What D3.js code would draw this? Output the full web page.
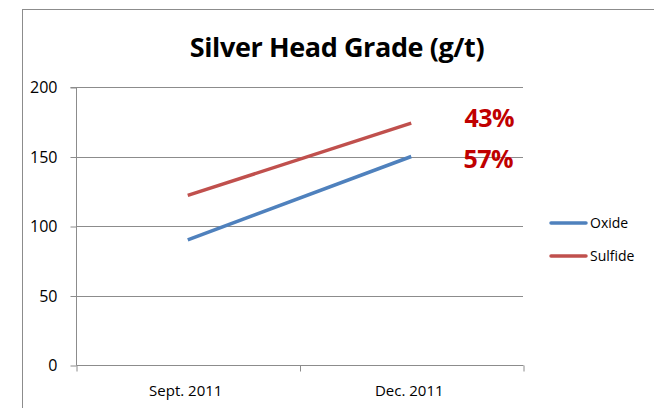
<!DOCTYPE html>
<html>
<head>
<meta charset="utf-8">
<script src="https://cdn.jsdelivr.net/npm/d3@7"></script>
<style>
  body { margin: 0; background: #fff; }
  svg { display: block; font-family: "Open Sans", "Noto Sans", sans-serif; }
</style>
</head>
<body>
<div class="container"></div>
<script>
const categories = ['Sept. 2011', 'Dec. 2011'];
const seriesNames = ['Oxide', 'Sulfide'];
const oxideValues = [90, 150];
const sulfideValues = [122, 174];
const yTicks = [0, 50, 100, 150, 200];
const shareLabels = ['43%', '57%'];
const colors = ['#4f81bd', '#c0504d'];

const w = 654, h = 408,
    padding = { top: 87, bottom: 43, left: 76, right: 131 };

const svg = d3.select("div.container")
    .append("svg")
    .attr("width", w)
    .attr("height", h);

// chart border
svg.append("rect")
    .attr("x", 22.5).attr("y", 9.5)
    .attr("width", 700).attr("height", 500)
    .attr("fill", "none")
    .attr("stroke", "#8c8c8c");

svg.append("text")
    .attr("x", 337).attr("y", 57)
    .attr("text-anchor", "middle")
    .style("font-size", "27px")
    .style("font-weight", "bold")
    .style("letter-spacing", "-0.4px")
    .text("Silver Head Grade (g/t)");

const xScale = d3.scalePoint()
    .domain(categories)
    .range([padding.left, w - padding.right])
    .padding(0.5);

const yScale = d3.scaleLinear()
    .domain([0, 200])
    .range([h - padding.bottom, padding.top]);

// gridlines
svg.append("g")
    .selectAll("line")
    .data(yTicks.filter(d => d > 0))
    .enter()
    .append("line")
    .attr("x1", padding.left).attr("x2", w - padding.right)
    .attr("y1", d => Math.round(yScale(d)) + 0.5)
    .attr("y2", d => Math.round(yScale(d)) + 0.5)
    .attr("stroke", "#8c8c8c");

const yAxis = d3.axisLeft(yScale)
    .tickValues(yTicks)
    .tickSize(6)
    .tickPadding(13);

const yG = svg.append("g")
    .attr("id", "y-axis")
    .attr("transform", "translate(" + (padding.left + 0.5) + ",0.5)")
    .call(yAxis)
    .attr("font-size", 16)
    .attr("font-family", "Open Sans, sans-serif");

// x axis with ticks at category boundaries
const xAxis = d3.axisBottom(d3.scaleLinear().domain([0, 2]).range([padding.left, w - padding.right]))
    .tickValues([0, 1, 2])
    .tickSize(6)
    .tickFormat("");

const xG = svg.append("g")
    .attr("id", "x-axis")
    .attr("transform", "translate(0.5," + (Math.round(yScale(0)) + 0.5) + ")")
    .call(xAxis);

[yG, xG].forEach(g => {
    g.selectAll("path, line").attr("stroke", "#8c8c8c");
    g.selectAll("text").attr("fill", "#000");
});
yG.select(".domain").attr("d", "M-6," + yScale(200) + "H0V" + yScale(0));
xG.select(".domain").attr("d", "M" + padding.left + ",0H" + (w - padding.right));

svg.append("g")
    .attr("font-size", 15)
    .selectAll("text")
    .data(categories)
    .enter()
    .append("text")
    .attr("x", d => xScale(d) - 2)
    .attr("y", 396)
    .attr("text-anchor", "middle")
    .text(d => d);

const line = d3.line()
    .x((d, i) => xScale(categories[i]))
    .y(d => yScale(d));

[oxideValues, sulfideValues].forEach((vals, i) => {
    svg.append("path")
        .datum(vals)
        .attr("d", line)
        .attr("fill", "none")
        .attr("stroke", colors[i])
        .attr("stroke-width", 3.5);
});

// percentage annotations
svg.append("g")
    .selectAll("text")
    .data(shareLabels)
    .enter()
    .append("text")
    .attr("x", (d, i) => i === 0 ? 514 : 513)
    .attr("y", (d, i) => i === 0 ? 127 : 168)
    .attr("text-anchor", "end")
    .attr("fill", "#c00000")
    .style("font-size", "25px")
    .style("font-weight", "bold")
    .style("letter-spacing", "-0.5px")
    .text(d => d);

// legend
const legend = svg.append("g")
    .selectAll("g")
    .data(seriesNames)
    .enter()
    .append("g")
    .attr("transform", (d, i) => "translate(551," + (223 + i * 33) + ")");

legend.append("line")
    .attr("x1", 0).attr("x2", 35)
    .attr("stroke", (d, i) => colors[i])
    .attr("stroke-width", 3.5)
    .attr("stroke-linecap", "round");

legend.append("text")
    .attr("x", 39).attr("y", 5)
    .style("font-size", "14px")
    .text(d => d);
</script>
</body>
</html>
